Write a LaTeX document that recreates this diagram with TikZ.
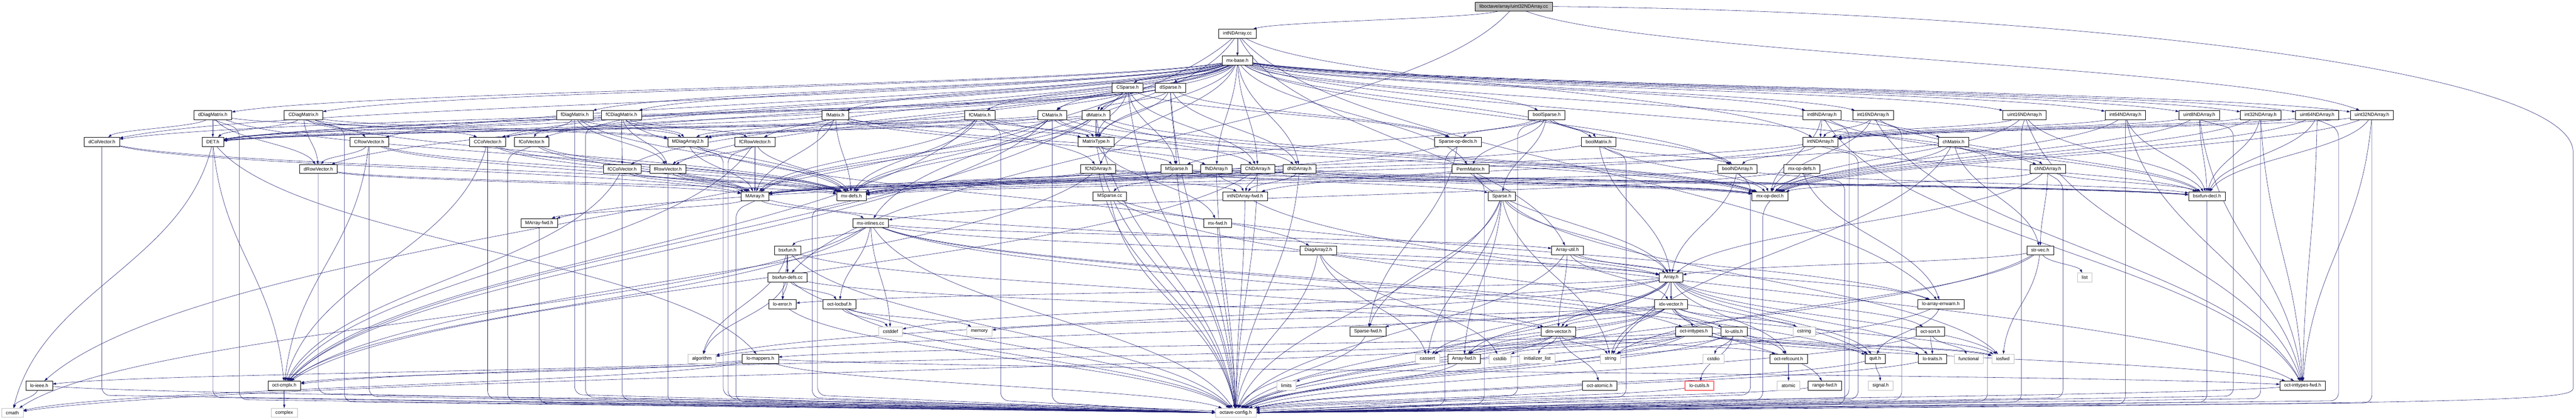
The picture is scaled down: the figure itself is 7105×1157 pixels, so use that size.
\documentclass[tikz,border=0pt]{standalone}
\usepackage{fontspec}
\setmainfont{Liberation Sans}
\usetikzlibrary{arrows.meta,calc}
\definecolor{edgec}{HTML}{191970}
\definecolor{grayb}{HTML}{BFBFBF}
\pgfdeclarelayer{bg}
\pgfsetlayers{bg,main}
\newcommand\Ed[2]{\draw[ed] let \p1=(#1), \p2=(#2), \n1={max(0.45*(\y1-\y2),15)} in (#1) .. controls ({\x1+0.15*(\x2-\x1)},{\y1-\n1}) and ({\x2+0.15*(\x1-\x2)},{\y2+\n1}) .. (#2);}
\newcommand\Bl[3]{\draw[edb] let \p1=(#1.south) in (\p1) -- ({#2*1pt},{\y1-25pt}) -- ({#2*1pt},{-#3*1pt}) -- (octcfg.west);}
\newcommand\Br[3]{\draw[edb] let \p1=(#1.south) in (\p1) -- ({#2*1pt},{\y1-25pt}) -- ({#2*1pt},{-#3*1pt}) -- (octcfg.east);}
\begin{document}
\begin{tikzpicture}[x=1pt,y=-1pt,
  nd/.style={draw=black, fill=white, line width=0.8pt, minimum height=25pt, inner xsep=12pt, inner ysep=0pt, font=\fontsize{13}{15}\selectfont, text=black},
  gd/.style={nd, draw=grayb},
  rd/.style={nd, draw=red},
  topnd/.style={nd, fill=grayb},
  ed/.style={draw=edgec, line width=0.8pt, -{Triangle[length=9pt,width=6pt]}},
  edb/.style={ed, rounded corners=22pt}]
\useasboundingbox (0,0) rectangle (7105,1157);
% rows
\node[topnd] (u32cc) at (4175,18) {liboctave/array/uint32NDArray.cc};
\node[nd] (intcc) at (3413,93) {intNDArray.cc};
\node[nd] (mxbase) at (3413,167) {mx-base.h};
\node[nd] (CSparse) at (3110,242) {CSparse.h};
\node[nd] (dSparse) at (3228,242) {dSparse.h};
% row 4
\node[nd] (dDiag) at (587,317) {dDiagMatrix.h};
\node[nd] (CDiag) at (837,317) {CDiagMatrix.h};
\node[nd] (fDiag) at (1585,317) {fDiagMatrix.h};
\node[nd] (fCDiag) at (1714,317) {fCDiagMatrix.h};
\node[nd] (fMat) at (2304,317) {fMatrix.h};
\node[nd] (fCMat) at (2702,317) {fCMatrix.h};
\node[nd] (CMat) at (2902,317) {CMatrix.h};
\node[nd] (dMat) at (3023,317) {dMatrix.h};
\node[nd] (boolSp) at (4266,317) {boolSparse.h};
\node[nd] (i8) at (5025,317) {int8NDArray.h};
\node[nd] (i16) at (5166,317) {int16NDArray.h};
\node[nd] (u16) at (5584,317) {uint16NDArray.h};
\node[nd] (i64) at (5862,317) {int64NDArray.h};
\node[nd] (u8) at (6066,317) {uint8NDArray.h};
\node[nd] (i32) at (6235,317) {int32NDArray.h};
\node[nd] (u64) at (6391,317) {uint64NDArray.h};
\node[nd] (u32h) at (6542,317) {uint32NDArray.h};
% row 5
\node[nd] (dCol) at (281,391) {dColVector.h};
\node[nd] (DET) at (587,391) {DET.h};
\node[nd] (CRow) at (1018,391) {CRowVector.h};
\node[nd] (CCol) at (1345,391) {CColVector.h};
\node[nd] (fCol) at (1466,391) {fColVector.h};
\node[nd] (MDiag) at (1897,391) {MDiagArray2.h};
\node[nd] (fCRow) at (2082,391) {fCRowVector.h};
\node[nd] (MType) at (3023,391) {MatrixType.h};
\node[nd] (SpOp) at (4021,391) {Sparse-op-decls.h};
\node[nd] (boolMat) at (4409,391) {boolMatrix.h};
\node[nd] (intNDh) at (5021,391) {intNDArray.h};
\node[nd] (chMat) at (5388,391) {chMatrix.h};
% row 6
\node[nd] (dRow) at (878,466) {dRowVector.h};
\node[nd] (fCCol) at (1716,466) {fCColVector.h};
\node[nd] (fRow) at (1842,466) {fRowVector.h};
\node[nd] (fCND) at (3029,466) {fCNDArray.h};
\node[nd] (MSp) at (3245,466) {MSparse.h};
\node[nd] (fND) at (3355,466) {fNDArray.h};
\node[nd] (CND) at (3469,466) {CNDArray.h};
\node[nd] (dND) at (3584,466) {dNDArray.h};
\node[nd] (Perm) at (4056,466) {PermMatrix.h};
\node[nd] (boolND) at (4792,466) {boolNDArray.h};
\node[nd] (mxopdefs) at (4970,466) {mx-op-defs.h};
\node[nd] (chND) at (5648,466) {chNDArray.h};
% row 7
\node[nd] (MArray) at (2082,541) {MArray.h};
\node[nd] (mxdefs) at (2348,541) {mx-defs.h};
\node[nd] (MSpcc) at (3061,541) {MSparse.cc};
\node[nd] (intfwd) at (3434,541) {intNDArray-fwd.h};
\node[nd] (Sparse) at (4142,541) {Sparse.h};
\node[nd] (mxopdecl) at (4882,541) {mx-op-decl.h};
\node[nd] (bsxdecl) at (6087,541) {bsxfun-decl.h};
% row 8
\node[nd] (MAfwd) at (1487,615) {MArray-fwd.h};
\node[nd] (mxinl) at (2401,615) {mx-inlines.cc};
\node[nd] (mxfwd) at (3358,615) {mx-fwd.h};
% row 9
\node[nd] (bsxfun) at (2172,690) {bsxfun.h};
\node[nd] (DiagA2) at (3636,690) {DiagArray2.h};
\node[nd] (Autil) at (4323,690) {Array-util.h};
\node[nd] (strvec) at (5627,690) {str-vec.h};
% row 10
\node[nd] (bsxdefs) at (2172,765) {bsxfun-defs.cc};
\node[nd] (Array) at (4609,765) {Array.h};
\node[gd] (list) at (5750,765) {list};
% row 11
\node[nd] (loerr) at (2158,839) {lo-error.h};
\node[nd] (locbuf) at (2315,839) {oct-locbuf.h};
\node[nd] (idx) at (4609,839) {idx-vector.h};
\node[nd] (loaerr) at (5353,839) {lo-array-errwarn.h};
% row 12
\node[gd] (cstddef) at (2456,914) {cstddef};
\node[gd] (memory) at (2701,914) {memory};
\node[nd] (Spfwd) at (3773,914) {Sparse-fwd.h};
\node[nd] (dimv) at (4298,914) {dim-vector.h};
\node[nd] (octint) at (4672,914) {oct-inttypes.h};
\node[nd] (loutils) at (4783,914) {lo-utils.h};
\node[gd] (cstring) at (4976,914) {cstring};
\node[nd] (octsort) at (5324,914) {oct-sort.h};
% row 13
\node[gd] (algorithm) at (1936,989) {algorithm};
\node[nd] (lomap) at (2097,989) {lo-mappers.h};
\node[gd] (cassert) at (3937,989) {cassert};
\node[nd] (Afwd) at (4038,989) {Array-fwd.h};
\node[gd] (cstdlib) at (4137,989) {cstdlib};
\node[gd] (initl) at (4240,989) {initializer\_list};
\node[gd] (string) at (4442,989) {string};
\node[gd] (cstdio) at (4726,989) {cstdio};
\node[nd] (refc) at (4933,989) {oct-refcount.h};
\node[nd] (quit) at (5172,989) {quit.h};
\node[nd] (lotraits) at (5330,989) {lo-traits.h};
\node[gd] (functional) at (5430,989) {functional};
\node[gd] (iosfwd) at (5524,989) {iosfwd};
% row 14
\node[nd] (loieee) at (108,1063) {lo-ieee.h};
\node[nd] (cmplx) at (784,1063) {oct-cmplx.h};
\node[gd] (limits) at (3548,1063) {limits};
\node[nd] (atomich) at (4412,1063) {oct-atomic.h};
\node[rd] (locutils) at (4687,1063) {lo-cutils.h};
\node[gd] (atomic) at (4933,1063) {atomic};
\node[nd] (rangefwd) at (5033,1063) {range-fwd.h};
\node[gd] (signal) at (5187,1063) {signal.h};
\node[nd] (intfwd2) at (6351,1063) {oct-inttypes-fwd.h};
% row 15
\node[gd] (cmath) at (34,1138) {cmath};
\node[gd] (complex) at (784,1138) {complex};
\node[gd] (octcfg) at (3408,1138) {octave-config.h};

\begin{pgfonlayer}{bg}
\fill[white] (0,0) rectangle (7105,1157);
\foreach \tg in {intcc,bsxdefs,u32h} {\Ed{u32cc}{\tg}}
\draw[ed] (u32cc.east) .. controls (5600,30) and (7097,180) .. (7097,420) -- (7097,1070) .. controls (7097,1108) and (6900,1112) .. (octcfg.east);
\foreach \tg in {mxbase,mxinl,Autil,loaerr,intNDh,loieee} {\Ed{intcc}{\tg}}
\foreach \tg in {MType,boolMat,chMat,dMat,CMat,fMat,fCMat,dCol,CCol,fCol,fCCol,dRow,CRow,fRow,fCRow,dDiag,CDiag,fDiag,fCDiag,Perm,dND,CND,fND,fCND,boolND,chND,i8,i16,i32,i64,u8,u16,u32h,u64,boolSp,CSparse,dSparse} {\Ed{mxbase}{\tg}}
\foreach \tg in {CCol,CMat,CND,DET,MSp,MType,SpOp,cmplx,dMat} {\Ed{CSparse}{\tg}}
\foreach \tg in {dMat,dND,dCol,DET,MSp,MType,SpOp} {\Ed{dSparse}{\tg}}
\foreach \tg in {DET,MDiag,dCol,dRow,mxdefs} {\Ed{dDiag}{\tg}}
\foreach \tg in {CCol,CRow,DET,MDiag,dRow,mxdefs} {\Ed{CDiag}{\tg}}
\foreach \tg in {DET,MDiag,fCol,fRow,mxdefs} {\Ed{fDiag}{\tg}}
\foreach \tg in {DET,MDiag,fCCol,fCRow,fRow,mxdefs} {\Ed{fCDiag}{\tg}}
\foreach \tg in {DET,MArray,MDiag,MType,fND,mxdefs,mxopdecl} {\Ed{fMat}{\tg}}
\foreach \tg in {DET,MArray,MDiag,MType,fCND,mxdefs,mxopdecl,cmplx} {\Ed{fCMat}{\tg}}
\foreach \tg in {DET,MArray,MDiag,MType,CND,mxdefs,mxopdecl,cmplx} {\Ed{CMat}{\tg}}
\foreach \tg in {DET,MArray,MDiag,MType,dND,mxdefs,mxopdecl} {\Ed{dMat}{\tg}}
\foreach \tg in {SpOp,boolMat,Perm,Sparse,boolND,MSp} {\Ed{boolSp}{\tg}}
\foreach \s in {i8,i16,u16,i64,u8,i32,u64,u32h} {\foreach \tg in {intNDh,mxopdecl,bsxdecl,intfwd2} {\Ed{\s}{\tg}}}
\foreach \tg in {MArray,mxdefs} {\Ed{dCol}{\tg}}
\foreach \tg in {cmath,lomap,cmplx} {\Ed{DET}{\tg}}
\foreach \tg in {MArray,dRow,mxdefs,cmplx} {\Ed{CRow}{\tg}}
\foreach \tg in {MArray,mxdefs,cmplx} {\Ed{CCol}{\tg}}
\foreach \tg in {MArray,mxdefs} {\Ed{fCol}{\tg}}
\foreach \tg in {DiagA2,MArray} {\Ed{MDiag}{\tg}}
\foreach \tg in {MArray,fRow,mxdefs,cmplx} {\Ed{fCRow}{\tg}}
\foreach \tg in {MSp,mxfwd} {\Ed{MType}{\tg}}
\foreach \tg in {Spfwd,MAfwd} {\Ed{SpOp}{\tg}}
\foreach \tg in {Array,boolND,mxdefs,mxopdecl} {\Ed{boolMat}{\tg}}
\foreach \tg in {MArray,boolND,intfwd,bsxdecl} {\Ed{intNDh}{\tg}}
\foreach \tg in {chND,mxdefs,mxopdecl,strvec,string} {\Ed{chMat}{\tg}}
\foreach \tg in {MArray,mxdefs} {\Ed{dRow}{\tg}}
\foreach \tg in {MArray,mxdefs,cmplx} {\Ed{fCCol}{\tg}}
\foreach \tg in {MArray,mxdefs} {\Ed{fRow}{\tg}}
\foreach \tg in {MArray,bsxdecl,intfwd,mxdefs,mxopdecl,cmplx} {\Ed{fCND}{\tg}}
\foreach \tg in {MArray,bsxdecl,intfwd,mxdefs,mxopdecl} {\Ed{fND}{\tg}}
\foreach \tg in {MArray,bsxdecl,intfwd,mxdefs,mxopdecl,cmplx} {\Ed{CND}{\tg}}
\foreach \tg in {MArray,bsxdecl,intfwd,mxdefs,mxopdecl} {\Ed{dND}{\tg}}
\foreach \tg in {Sparse,MArray,MSpcc} {\Ed{MSp}{\tg}}
\foreach \tg in {Array,mxdefs} {\Ed{Perm}{\tg}}
\foreach \tg in {Array,bsxdecl,mxopdecl,mxdefs} {\Ed{boolND}{\tg}}
\foreach \tg in {loaerr,mxopdecl,mxinl} {\Ed{mxopdefs}{\tg}}
\foreach \tg in {Array,bsxdecl,mxopdecl,strvec} {\Ed{chND}{\tg}}
\foreach \tg in {Array,MAfwd,mxinl} {\Ed{MArray}{\tg}}
\foreach \tg in {quit,loaerr} {\Ed{MSpcc}{\tg}}
\Ed{intfwd}{intfwd2}
\foreach \tg in {Array,Spfwd,cassert,Afwd,string,iosfwd} {\Ed{Sparse}{\tg}}
\foreach \tg in {cstddef,cmath,quit,cmplx,locbuf,octint,Array,Autil,bsxfun,loutils} {\Ed{mxinl}{\tg}}
\foreach \tg in {bsxdefs,algorithm,dimv,loerr} {\Ed{bsxfun}{\tg}}
\foreach \tg in {cassert,cstdlib,Array} {\Ed{DiagA2}{\tg}}
\foreach \tg in {Array,dimv,idx,loaerr} {\Ed{Autil}{\tg}}
\foreach \tg in {iosfwd,list,string,Array} {\Ed{strvec}{\tg}}
\foreach \tg in {algorithm,dimv,locbuf,loerr} {\Ed{bsxdefs}{\tg}}
\foreach \tg in {cassert,cstddef,algorithm,iosfwd,string,Afwd,dimv,idx,loerr,lotraits,quit,refc,octsort} {\Ed{Array}{\tg}}
\foreach \tg in {cstddef,memory} {\Ed{locbuf}{\tg}}
\foreach \tg in {cassert,cstring,algorithm,iosfwd,memory,Afwd,dimv,octint,refc,Spfwd,rangefwd} {\Ed{idx}{\tg}}
\Ed{loaerr}{quit}
\foreach \tg in {cassert,initl,string,Afwd,atomich,refc} {\Ed{dimv}{\tg}}
\foreach \tg in {cmath,cstdlib,iosfwd,limits,lomap,lotraits,intfwd2} {\Ed{octint}{\tg}}
\foreach \tg in {cstdio,iosfwd,string,quit,locutils,cmplx} {\Ed{loutils}{\tg}}
\foreach \tg in {functional,lotraits} {\Ed{octsort}{\tg}}
\foreach \tg in {cmath,loieee,cmplx,intfwd2} {\Ed{lomap}{\tg}}
\Ed{refc}{atomic}
\Ed{quit}{signal}
\Ed{loieee}{cmath}
\Ed{cmplx}{complex}
% edges into octave-config.h
\foreach \s in {CSparse,dSparse,dMat,MType,fCND,MSp,fND,CND,dND,MSpcc,intfwd,mxfwd,DiagA2,Autil,strvec,Array,idx,loaerr,Spfwd,dimv,octint,loutils,octsort,Afwd,quit,lotraits,atomich,locutils,rangefwd,intfwd2,mxinl,bsxfun,bsxdefs,loerr,locbuf,lomap,loieee,Sparse} {\Ed{\s}{octcfg}}
\foreach \s/\vx/\lv in {dCol/281/1090, DET/587/1096, dDiag/660/1102, dRow/878/1085, CDiag/950/1108, CRow/1018/1093, CCol/1345/1100, fCol/1400/1106, MAfwd/1487/1112, fDiag/1585/1088, fCDiag/1615/1095, fCCol/1716/1103, fRow/1842/1110, MDiag/1995/1092, fCRow/2008/1099, MArray/2030/1107, mxdefs/2240/1097, fMat/2255/1090, fCMat/2760/1104, CMat/2902/1110} {\Bl{\s}{\vx}{\lv}}
\foreach \s/\vx/\lv in {boolSp/4186/1090, SpOp/3985/1117, Perm/4094/1112, boolMat/4485/1094, boolND/4828/1088, mxopdecl/4862/1103, mxopdefs/5088/1115, i8/5100/1096, intNDh/5125/1100, i16/5245/1102, chMat/5482/1106, u16/5575/1108, chND/5690/1097, i64/5862/1114, bsxdecl/6087/1109, u8/6160/1092, i32/6235/1099, u64/6450/1105, u32h/6542/1111} {\Br{\s}{\vx}{\lv}}
\end{pgfonlayer}
\end{tikzpicture}
\end{document}
